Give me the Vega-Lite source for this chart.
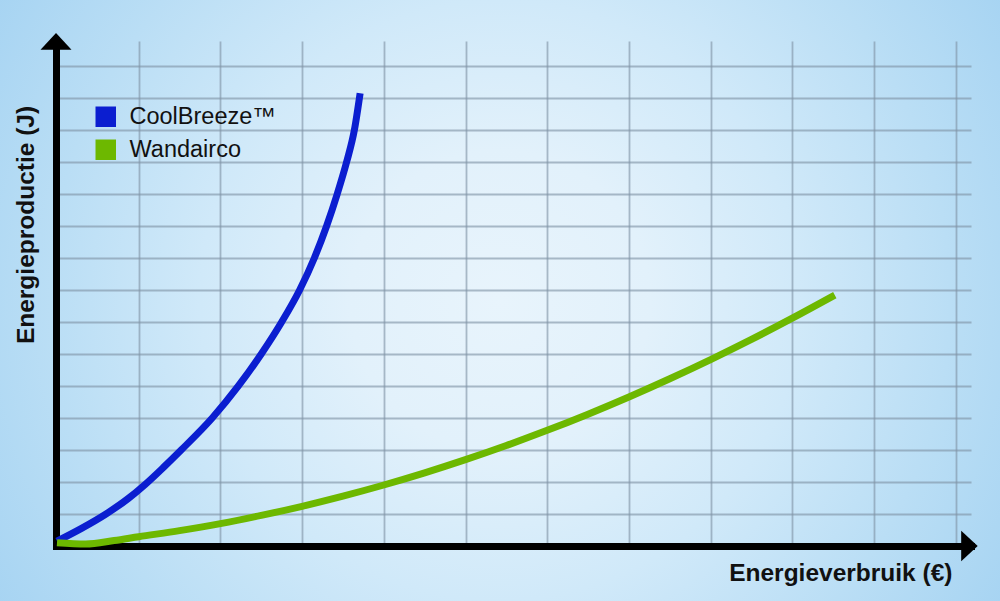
{
  "$schema": "https://vega.github.io/schema/vega-lite/v6.json",
  "width": 1000,
  "height": 601,
  "autosize": {"type": "none"},
  "padding": 0,
  "background": "#c4e3f7",
  "view": {
    "stroke": null,
    "fill": {
      "gradient": "radial",
      "x1": 0.5, "y1": 0.5, "r1": 0,
      "x2": 0.5, "y2": 0.5, "r2": 0.6,
      "stops": [
        {"offset": 0, "color": "#e8f4fc"},
        {"offset": 0.25, "color": "#e2f1fb"},
        {"offset": 0.5, "color": "#d0e9f9"},
        {"offset": 0.75, "color": "#badef5"},
        {"offset": 1, "color": "#a5d3f2"}
      ]
    }
  },
  "config": {
    "axis": {
      "grid": true,
      "gridColor": "#7f93a5",
      "gridOpacity": 0.62,
      "gridWidth": 1.8,
      "domainColor": "#000000",
      "domainWidth": 7,
      "domainCap": "square",
      "ticks": false,
      "labels": false,
      "titleFont": "Liberation Sans",
      "titleFontSize": 24.5,
      "titleFontWeight": "bold",
      "titleColor": "#111111"
    }
  },
  "layer": [
    {
      "data": {
        "values": [
          {"merk": "CoolBreeze™", "verbruik": 0, "productie": 0.15},
          {"merk": "CoolBreeze™", "verbruik": 0.3, "productie": 0.55},
          {"merk": "CoolBreeze™", "verbruik": 0.6, "productie": 1.0},
          {"merk": "CoolBreeze™", "verbruik": 0.87, "productie": 1.48},
          {"merk": "CoolBreeze™", "verbruik": 1.077, "productie": 1.92},
          {"merk": "CoolBreeze™", "verbruik": 1.3, "productie": 2.45},
          {"merk": "CoolBreeze™", "verbruik": 1.52, "productie": 3.0},
          {"merk": "CoolBreeze™", "verbruik": 1.9, "productie": 4.0},
          {"merk": "CoolBreeze™", "verbruik": 2.22, "productie": 5.0},
          {"merk": "CoolBreeze™", "verbruik": 2.5, "productie": 6.0},
          {"merk": "CoolBreeze™", "verbruik": 2.75, "productie": 7.0},
          {"merk": "CoolBreeze™", "verbruik": 2.97, "productie": 8.0},
          {"merk": "CoolBreeze™", "verbruik": 3.15, "productie": 9.0},
          {"merk": "CoolBreeze™", "verbruik": 3.3, "productie": 10.0},
          {"merk": "CoolBreeze™", "verbruik": 3.43, "productie": 11.0},
          {"merk": "CoolBreeze™", "verbruik": 3.545, "productie": 12.0},
          {"merk": "CoolBreeze™", "verbruik": 3.64, "productie": 13.0},
          {"merk": "CoolBreeze™", "verbruik": 3.71, "productie": 14.15},
          {"merk": "Wandairco", "verbruik": 0, "productie": 0.1},
          {"merk": "Wandairco", "verbruik": 0.35, "productie": 0.06},
          {"merk": "Wandairco", "verbruik": 0.7, "productie": 0.17},
          {"merk": "Wandairco", "verbruik": 1.0, "productie": 0.29},
          {"merk": "Wandairco", "verbruik": 1.5, "productie": 0.48},
          {"merk": "Wandairco", "verbruik": 2.0, "productie": 0.7},
          {"merk": "Wandairco", "verbruik": 2.5, "productie": 0.956},
          {"merk": "Wandairco", "verbruik": 3.0, "productie": 1.241},
          {"merk": "Wandairco", "verbruik": 3.5, "productie": 1.558},
          {"merk": "Wandairco", "verbruik": 4.0, "productie": 1.906},
          {"merk": "Wandairco", "verbruik": 4.5, "productie": 2.286},
          {"merk": "Wandairco", "verbruik": 5.0, "productie": 2.698},
          {"merk": "Wandairco", "verbruik": 5.5, "productie": 3.14},
          {"merk": "Wandairco", "verbruik": 6.0, "productie": 3.614},
          {"merk": "Wandairco", "verbruik": 6.5, "productie": 4.12},
          {"merk": "Wandairco", "verbruik": 7.0, "productie": 4.657},
          {"merk": "Wandairco", "verbruik": 7.5, "productie": 5.226},
          {"merk": "Wandairco", "verbruik": 8.0, "productie": 5.826},
          {"merk": "Wandairco", "verbruik": 8.5, "productie": 6.457},
          {"merk": "Wandairco", "verbruik": 9.0, "productie": 7.12},
          {"merk": "Wandairco", "verbruik": 9.52, "productie": 7.84}
        ]
      },
      "mark": {"type": "line", "interpolate": "monotone", "strokeWidth": 7},
      "encoding": {
        "x": {
          "field": "verbruik",
          "type": "quantitative",
          "scale": {"domain": [0, 11.187], "range": [57, 971], "nice": false, "zero": false},
          "axis": {
            "orient": "top",
            "offset": -546,
            "values": [1, 2, 3, 4, 5, 6, 7, 8, 9, 10, 11],
            "title": "Energieverbruik (€)",
            "titleX": 952,
            "titleY": 34,
            "titleAlign": "right",
            "titleBaseline": "alphabetic",
            "titleAngle": 0
          }
        },
        "y": {
          "field": "productie",
          "type": "quantitative",
          "scale": {"domain": [0, 15.78], "range": [546, 41], "nice": false, "zero": false},
          "axis": {
            "orient": "left",
            "offset": -56,
            "values": [1, 2, 3, 4, 5, 6, 7, 8, 9, 10, 11, 12, 13, 14, 15],
            "title": "Energieproductie (J)",
            "titleX": -23,
            "titleY": 224.5,
            "titleAngle": 270,
            "titleAlign": "center",
            "titleBaseline": "alphabetic"
          }
        },
        "color": {
          "field": "merk",
          "type": "nominal",
          "scale": {"domain": ["CoolBreeze™", "Wandairco"], "range": ["#0b1ed0", "#6db800"]},
          "legend": {
            "orient": "none",
            "legendX": 94,
            "legendY": 105,
            "title": null,
            "padding": 0,
            "symbolType": "square",
            "symbolSize": 420,
            "symbolStrokeWidth": 0,
            "labelFont": "Liberation Sans",
            "labelFontSize": 23.5,
            "labelColor": "#111111",
            "labelOffset": 12,
            "rowPadding": 8,
            "encode": {
              "symbols": {
                "update": {
                  "fill": {"scale": "color", "field": "value"},
                  "fillOpacity": {"value": 1},
                  "strokeWidth": {"value": 0}
                }
              }
            }
          }
        }
      }
    },
    {
      "data": {"values": [{}]},
      "mark": {"type": "point", "shape": "M -0.54 -1 L 0.54 0 L -0.54 1 Z", "filled": true, "fill": "#000000", "opacity": 1, "size": 930, "strokeWidth": 0},
      "encoding": {
        "x": {"datum": 11.168, "type": "quantitative"},
        "y": {"datum": 0, "type": "quantitative"}
      }
    },
    {
      "data": {"values": [{}]},
      "mark": {"type": "point", "shape": "M -1 0.54 L 0 -0.54 L 1 0.54 Z", "filled": true, "fill": "#000000", "opacity": 1, "size": 961, "strokeWidth": 0},
      "encoding": {
        "x": {"datum": -0.012, "type": "quantitative"},
        "y": {"datum": 15.766, "type": "quantitative"}
      }
    }
  ]
}
